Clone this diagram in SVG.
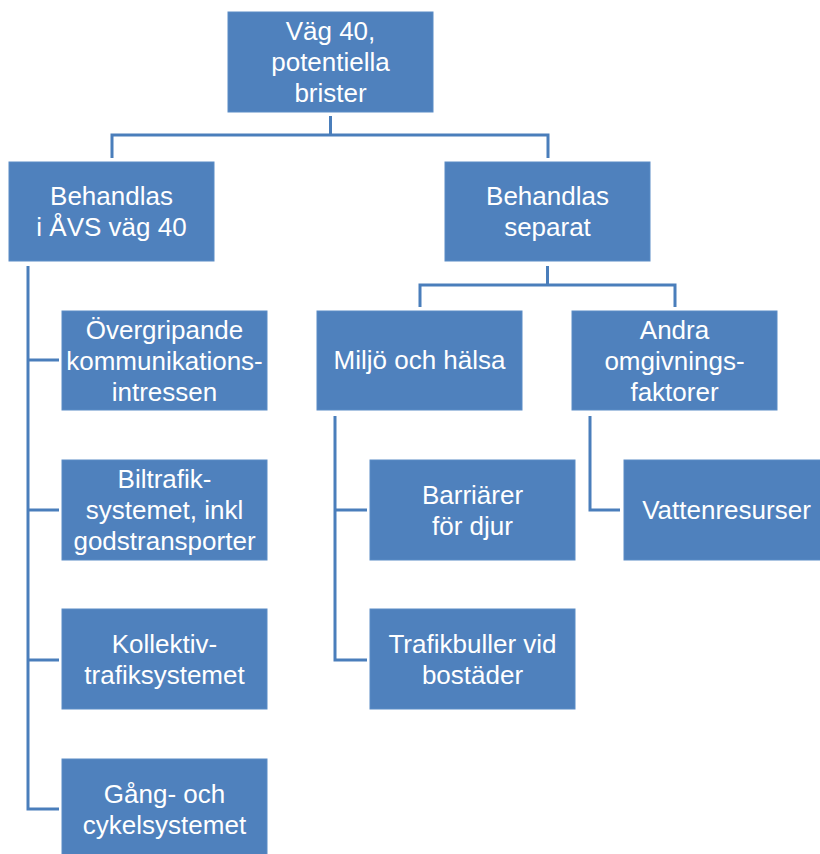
<svg xmlns="http://www.w3.org/2000/svg" width="820" height="854" viewBox="0 0 820 854">
<style>
.box{fill:#4F81BD;stroke:#5B8CC6;stroke-width:1}
.t{font-family:"Liberation Sans",Arial,sans-serif;font-size:26px;fill:#FFFFFF;text-anchor:middle}
.c{fill:none;stroke:#4A7EBB;stroke-width:3;stroke-linejoin:miter;stroke-linecap:butt}
</style>
<rect width="820" height="854" fill="#FFFFFF"/>
<g id="connectors">
<path class="c" d="M330.5,116 V135"/>
<path class="c" d="M112,158 V135 H548 V158"/>
<path class="c" d="M28,266 V809 H59"/>
<path class="c" d="M28,360 H59 M28,510 H59 M28,660 H59"/>
<path class="c" d="M547.5,266 V285"/>
<path class="c" d="M420,307 V285 H675 V307"/>
<path class="c" d="M335,416 V660 H367 M335,510 H367"/>
<path class="c" d="M590,416 V510 H620"/>
</g>
<g id="n_top">
<rect class="box" x="228" y="12" width="205" height="100"/>
<text class="t" x="330.5" y="40">Väg 40,</text>
<text class="t" x="330.5" y="71">potentiella</text>
<text class="t" x="330.5" y="102">brister</text>
</g>
<g id="n_avs">
<rect class="box" x="9" y="162" width="205" height="99"/>
<text class="t" x="111.5" y="205">Behandlas</text>
<text class="t" x="111.5" y="236">i ÅVS väg 40</text>
</g>
<g id="n_separat">
<rect class="box" x="445" y="162" width="205" height="99"/>
<text class="t" x="547.5" y="205">Behandlas</text>
<text class="t" x="547.5" y="236">separat</text>
</g>
<g id="n_overgripande">
<rect class="box" x="62" y="311" width="205" height="99"/>
<text class="t" x="164.5" y="339">Övergripande</text>
<text class="t" x="164.5" y="370">kommunikations-</text>
<text class="t" x="164.5" y="401">intressen</text>
</g>
<g id="n_biltrafik">
<rect class="box" x="62" y="460" width="205" height="100"/>
<text class="t" x="164.5" y="488">Biltrafik-</text>
<text class="t" x="164.5" y="519">systemet, inkl</text>
<text class="t" x="164.5" y="550">godstransporter</text>
</g>
<g id="n_kollektiv">
<rect class="box" x="62" y="609" width="205" height="100"/>
<text class="t" x="164.5" y="653">Kollektiv-</text>
<text class="t" x="164.5" y="684">trafiksystemet</text>
</g>
<g id="n_gang">
<rect class="box" x="62" y="759" width="205" height="100"/>
<text class="t" x="164.5" y="803">Gång- och</text>
<text class="t" x="164.5" y="834">cykelsystemet</text>
</g>
<g id="n_miljo">
<rect class="box" x="317" y="311" width="205" height="99"/>
<text class="t" x="419.5" y="369">Miljö och hälsa</text>
</g>
<g id="n_andra">
<rect class="box" x="572" y="311" width="205" height="99"/>
<text class="t" x="674.5" y="339">Andra</text>
<text class="t" x="674.5" y="370">omgivnings-</text>
<text class="t" x="674.5" y="401">faktorer</text>
</g>
<g id="n_barriarer">
<rect class="box" x="370" y="460" width="205" height="100"/>
<text class="t" x="472.5" y="504">Barriärer</text>
<text class="t" x="472.5" y="535">för djur</text>
</g>
<g id="n_trafikbuller">
<rect class="box" x="370" y="609" width="205" height="100"/>
<text class="t" x="472.5" y="653">Trafikbuller vid</text>
<text class="t" x="472.5" y="684">bostäder</text>
</g>
<g id="n_vatten">
<rect class="box" x="624" y="460" width="205" height="100"/>
<text class="t" x="726.5" y="519">Vattenresurser</text>
</g>
</svg>
